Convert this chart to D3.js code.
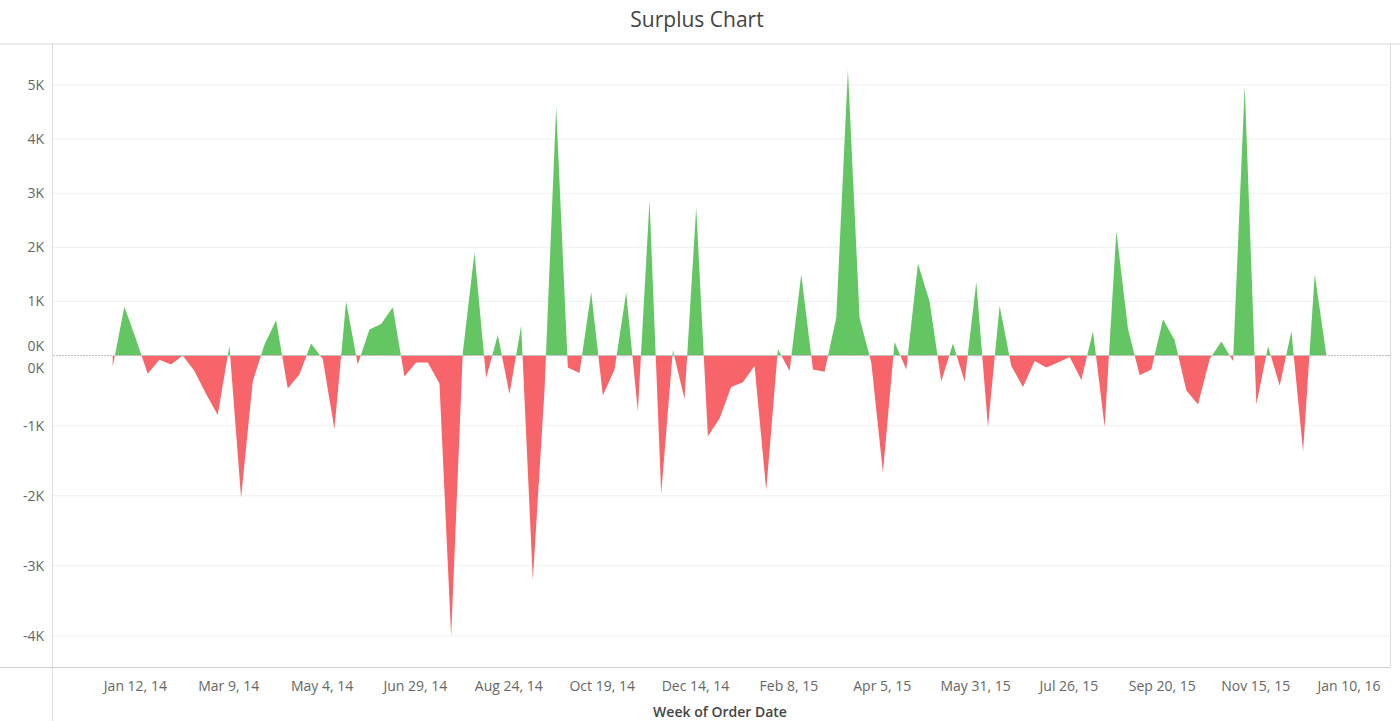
<!DOCTYPE html>
<html><head><meta charset="utf-8">
<script src="https://cdn.jsdelivr.net/npm/d3@7"></script>
<style>body{margin:0;background:#fff;font-family:"Open Sans",Lato,sans-serif}</style>
</head><body><svg id="c" width="1400" height="721"></svg>
<script>
// weekly surplus in thousands, week 0 = Jan 5, 2014
const startDate = "2014-01-05";
const surplus = [-0.16,0.9,0.3,-0.26,-0.06,-0.13,0.0,-0.22,-0.55,-0.85,
 0.18,-2.03,-0.37,0.2,0.65,-0.47,-0.27,0.22,-0.05,-1.05,
 1.0,-0.13,0.48,0.58,0.89,-0.3,-0.1,-0.1,-0.4,-4.0,
 0.05,1.9,-0.32,0.38,-0.55,0.55,-3.2,-0.5,4.6,-0.17,
 -0.25,1.17,-0.57,-0.2,1.17,-0.8,2.87,-1.97,0.1,-0.62,
 2.74,-1.15,-0.9,-0.45,-0.38,-0.15,-1.92,0.12,-0.22,1.5,
 -0.2,-0.23,0.7,5.28,0.7,-0.1,-1.67,0.25,-0.2,1.7,
 1.0,-0.37,0.22,-0.37,1.36,-1.02,0.92,-0.15,-0.45,-0.08,
 -0.17,-0.1,-0.02,-0.35,0.45,-1.02,2.3,0.49,-0.28,-0.2,
 0.67,0.28,-0.5,-0.7,-0.05,0.26,-0.08,4.98,-0.7,0.17,
 -0.43,0.45,-1.37,1.5,0.0];
const tickDates = ["2014-01-12","2014-03-09","2014-05-04","2014-06-29","2014-08-24","2014-10-19","2014-12-14","2015-02-08","2015-04-05","2015-05-31","2015-07-26","2015-09-20","2015-11-15","2016-01-10"];
const topTicks = [0,1,2,3,4,5];
const botTicks = [0,-1,-2,-3,-4];

const svg = d3.select("#c");
const fmtTick = d3.utcFormat("%b %-d, %y");
const t0 = new Date(startDate+"T00:00:00Z");
const x = d3.scaleUtc().domain([t0, d3.utcDay.offset(t0, 7*104)]).range([112.7, 1326.4]);
const yTop = d3.scaleLinear().domain([0,5]).range([355.5,85]);
const yBot = d3.scaleLinear().domain([0,-4]).range([355.5,636]);
const py = v => v>=0 ? yTop(v) : yBot(v);
const data = surplus.map((v,i)=>({d:d3.utcDay.offset(t0,7*i), v}));

// frame
svg.append("line").attr("x1",0).attr("x2",1400).attr("y1",44).attr("y2",44).attr("stroke","#ddd");
svg.append("line").attr("x1",52.5).attr("x2",52.5).attr("y1",44).attr("y2",721).attr("stroke","#ddd");
svg.append("line").attr("x1",1390.5).attr("x2",1390.5).attr("y1",44).attr("y2",667).attr("stroke","#ddd");
svg.append("line").attr("x1",0).attr("x2",1390).attr("y1",667.5).attr("y2",667.5).attr("stroke","#ccc");

// grid
const g = svg.append("g");
topTicks.filter(t=>t>0).forEach(t=>g.append("line").attr("x1",53).attr("x2",1390).attr("y1",yTop(t)).attr("y2",yTop(t)).attr("stroke","#efefef"));
botTicks.filter(t=>t<0).forEach(t=>g.append("line").attr("x1",53).attr("x2",1390).attr("y1",yBot(t)).attr("y2",yBot(t)).attr("stroke","#efefef"));

// y labels
const lab = svg.append("g").attr("font-size",14).attr("fill","#666").attr("text-anchor","end");
topTicks.forEach(t=>lab.append("text").attr("x",44).attr("y",yTop(t)+(t===0?-5:5)).text(t+"K"));
botTicks.forEach(t=>lab.append("text").attr("x",44).attr("y",yBot(t)+(t===0?17:5)).text((t===0?"0":t)+"K"));

// areas
const defs = svg.append("defs");
defs.append("clipPath").attr("id","cp").append("rect").attr("x",53).attr("y",44).attr("width",1337).attr("height",355.5-44);
defs.append("clipPath").attr("id","cn").append("rect").attr("x",53).attr("y",355.5).attr("width",1337).attr("height",667-355.5);
const area = d3.area().x(d=>x(d.d)).y0(355.5).y1(d=>py(d.v));
svg.append("path").datum(data).attr("d",area).attr("fill","#63c663").attr("clip-path","url(#cp)");
svg.append("path").datum(data).attr("d",area).attr("fill","#f7646a").attr("clip-path","url(#cn)");
svg.append("line").attr("x1",53).attr("x2",1390).attr("y1",355.5).attr("y2",355.5).attr("stroke","#bbb").attr("stroke-dasharray","2,1");

// x labels
const xl = svg.append("g").attr("font-size",14).attr("fill","#666").attr("text-anchor","middle");
tickDates.forEach(s=>{const d=new Date(s+"T00:00:00Z"); xl.append("text").attr("x",x(d)+11).attr("y",691).text(fmtTick(d));});
svg.append("text").attr("x",720).attr("y",717).attr("text-anchor","middle").attr("font-size",14).attr("font-weight","600").attr("fill","#444").text("Week of Order Date");
svg.append("text").attr("x",697).attr("y",27).attr("text-anchor","middle").attr("font-size",21).attr("font-weight","500").attr("fill","#444").text("Surplus Chart");
</script></body></html>
